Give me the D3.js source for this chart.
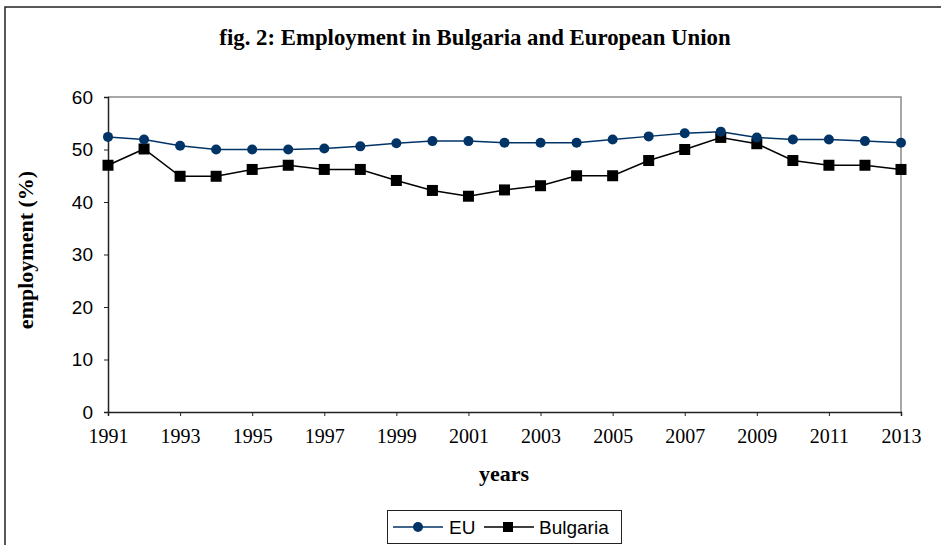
<!DOCTYPE html>
<html>
<head>
<meta charset="utf-8">
<script src="https://cdn.jsdelivr.net/npm/d3@7"></script>
<style>
  body { margin: 0; background: white; }
</style>
</head>
<body>
<div id="chart"></div>
<script>
var years = [1991, 1992, 1993, 1994, 1995, 1996, 1997, 1998, 1999, 2000, 2001, 2002,
             2003, 2004, 2005, 2006, 2007, 2008, 2009, 2010, 2011, 2012, 2013];
var euValues = [52.4, 51.9, 50.7, 50.0, 50.0, 50.0, 50.2, 50.6, 51.2, 51.6, 51.6, 51.3,
                51.3, 51.3, 51.9, 52.5, 53.1, 53.4, 52.3, 51.9, 51.9, 51.6, 51.3];
var bgValues = [47.0, 50.1, 44.9, 44.9, 46.2, 47.0, 46.2, 46.2, 44.1, 42.2, 41.1, 42.3,
                43.1, 45.0, 45.0, 47.9, 50.0, 52.3, 51.1, 47.9, 47.0, 47.0, 46.2];
var yTicks = [0, 10, 20, 30, 40, 50, 60];
var xTicks = [1991, 1993, 1995, 1997, 1999, 2001, 2003, 2005, 2007, 2009, 2011, 2013];

var width = 941, height = 545;
var plotLeft = 108, plotRight = 901, plotTop = 97, plotBottom = 412;

var svg = d3.select("#chart").append("svg")
    .attr("width", width)
    .attr("height", height);

// outer frame
svg.append("rect")
    .attr("x", 5).attr("y", 7)
    .attr("width", 945).attr("height", 560)
    .attr("fill", "white")
    .attr("stroke", "#222")
    .attr("stroke-width", 1.5);

var x = d3.scaleLinear().domain([1991, 2013]).range([plotLeft, plotRight]);
var y = d3.scaleLinear().domain([0, 60]).range([plotBottom, plotTop]);

// title
svg.append("text")
    .attr("x", 475).attr("y", 45)
    .attr("text-anchor", "middle")
    .style("font-family", "Liberation Serif, Times New Roman, serif")
    .style("font-weight", "bold")
    .style("font-size", "22.8px")
    .text("fig. 2: Employment in Bulgaria and European Union");

// plot frame: top and right in grey
svg.append("path")
    .attr("d", "M" + plotLeft + "," + plotTop + "H" + plotRight + "V" + plotBottom)
    .attr("fill", "none")
    .attr("stroke", "#8c8c8c")
    .attr("stroke-width", 1.5);

// y axis
var yAxis = svg.append("g")
    .attr("transform", "translate(" + plotLeft + ",0)")
    .call(d3.axisLeft(y).tickValues(yTicks).tickSize(4).tickPadding(11).tickFormat(d3.format("d")));
yAxis.select(".domain").attr("stroke", "#222").attr("stroke-width", 1.5);
yAxis.selectAll(".tick line").attr("stroke", "#222");
yAxis.selectAll("text")
    .style("font-family", "Liberation Sans, Arial, sans-serif")
    .style("font-size", "19px")
    .attr("fill", "#000");

// x axis
var xAxis = svg.append("g")
    .attr("transform", "translate(0," + plotBottom + ")")
    .call(d3.axisBottom(x).tickValues(xTicks).tickSize(4).tickPadding(13).tickFormat(d3.format("d")));
xAxis.select(".domain").attr("stroke", "#222").attr("stroke-width", 1.5);
xAxis.selectAll(".tick line").attr("stroke", "#222");
xAxis.selectAll("text")
    .style("font-family", "Liberation Serif, Times New Roman, serif")
    .style("font-size", "20px")
    .attr("fill", "#000");

// axis titles
svg.append("text")
    .attr("x", 504).attr("y", 481)
    .attr("text-anchor", "middle")
    .style("font-family", "Liberation Serif, Times New Roman, serif")
    .style("font-weight", "bold")
    .style("font-size", "22px")
    .text("years");

svg.append("text")
    .attr("transform", "translate(33,250) rotate(-90)")
    .attr("text-anchor", "middle")
    .style("font-family", "Liberation Serif, Times New Roman, serif")
    .style("font-weight", "bold")
    .style("font-size", "22px")
    .text("employment (%)");

// lines
var euColor = "#003366", bgColor = "#000000";
var line = d3.line()
    .x(function(d, i) { return x(years[i]); })
    .y(function(d) { return y(d); });

svg.append("path")
    .attr("d", line(bgValues))
    .attr("fill", "none")
    .attr("stroke", bgColor)
    .attr("stroke-width", 1.5);

svg.append("path")
    .attr("d", line(euValues))
    .attr("fill", "none")
    .attr("stroke", euColor)
    .attr("stroke-width", 1.5);

svg.selectAll(".bg-mark").data(bgValues).enter().append("rect")
    .attr("class", "bg-mark")
    .attr("x", function(d, i) { return x(years[i]) - 5.5; })
    .attr("y", function(d) { return y(d) - 5.5; })
    .attr("width", 11).attr("height", 11)
    .attr("fill", bgColor);

svg.selectAll(".eu-mark").data(euValues).enter().append("circle")
    .attr("class", "eu-mark")
    .attr("cx", function(d, i) { return x(years[i]); })
    .attr("cy", function(d) { return y(d); })
    .attr("r", 5)
    .attr("fill", euColor);

// legend
var legend = svg.append("g");
legend.append("rect")
    .attr("x", 387.5).attr("y", 510.5)
    .attr("width", 234).attr("height", 33)
    .attr("fill", "white")
    .attr("stroke", "#222")
    .attr("stroke-width", 1);

legend.append("line")
    .attr("x1", 393).attr("x2", 443).attr("y1", 527).attr("y2", 527)
    .attr("stroke", euColor).attr("stroke-width", 1.5);
legend.append("circle")
    .attr("cx", 418).attr("cy", 527).attr("r", 5).attr("fill", euColor);
legend.append("text")
    .attr("x", 449).attr("y", 534)
    .style("font-family", "Liberation Sans, Arial, sans-serif")
    .style("font-size", "19px")
    .text("EU");

legend.append("line")
    .attr("x1", 484).attr("x2", 534).attr("y1", 527).attr("y2", 527)
    .attr("stroke", bgColor).attr("stroke-width", 1.5);
legend.append("rect")
    .attr("x", 503).attr("y", 522).attr("width", 10).attr("height", 10).attr("fill", bgColor);
legend.append("text")
    .attr("x", 539).attr("y", 534)
    .style("font-family", "Liberation Sans, Arial, sans-serif")
    .style("font-size", "19px")
    .text("Bulgaria");
</script>
</body>
</html>
